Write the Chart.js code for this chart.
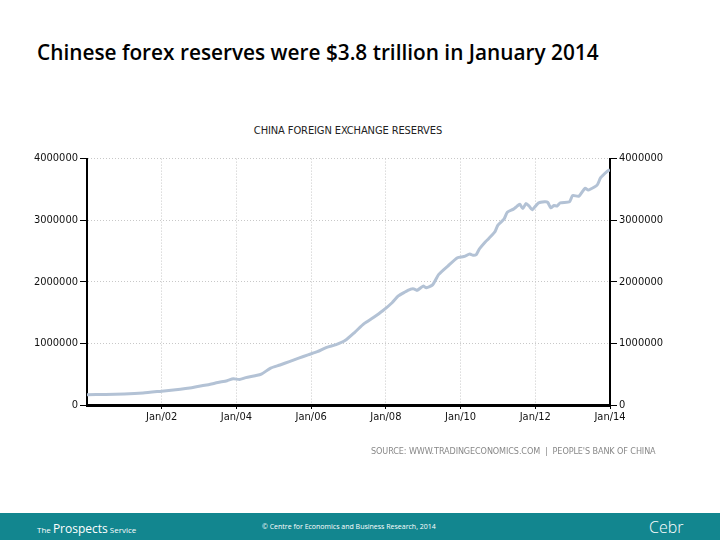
<!DOCTYPE html>
<html>
<head>
<meta charset="utf-8">
<script src="https://cdn.jsdelivr.net/npm/chart.js@4/dist/chart.umd.min.js"></script>
<style>
  body { margin:0; width:720px; height:540px; background:#fff; position:relative; overflow:hidden; font-family:"Open Sans", sans-serif; }
  #title { position:absolute; left:37px; top:38px; font-family:"Open Sans", sans-serif; font-weight:600; font-size:20.8px; color:#000; white-space:nowrap; }
  #ctitle { position:absolute; left:0; width:696px; top:124px; text-align:center; font-family:"DejaVu Sans Condensed","Liberation Sans Narrow",sans-serif; font-size:11px; color:#222; letter-spacing:-0.1px; }
  #source { position:absolute; left:371px; top:446px; font-family:"DejaVu Sans Condensed",sans-serif; font-size:9px; color:#888; white-space:nowrap; letter-spacing:-0.1px; }
  #wrap { position:absolute; left:0; top:150px; width:720px; height:300px; }
  #footer { position:absolute; left:0; top:513px; width:720px; height:27px; background:#12868f; color:#fff; }
  #footer span { position:absolute; white-space:nowrap; }
</style>
</head>
<body>
<div id="title">Chinese forex reserves were $3.8 trillion in January 2014</div>
<div id="ctitle">CHINA FOREIGN EXCHANGE RESERVES</div>
<div id="wrap"><canvas id="chart" width="720" height="300"></canvas></div>
<div id="source">SOURCE: WWW.TRADINGECONOMICS.COM&nbsp; |&nbsp; PEOPLE'S BANK OF CHINA</div>
<div id="footer">
  <span style="left:37px;top:7px;font-size:8px;">The <span style="position:static;font-size:12px;">Prospects</span> Service</span>
  <span style="left:262px;top:9px;font-size:7px;">© Centre for Economics and Business Research, 2014</span>
  <span style="left:649px;top:3px;font-size:16px;font-weight:300;">Cebr</span>
</div>
<script>
// China forex reserves, USD million
const dates = ['2000-01','2000-07','2001-01','2001-07','2002-01','2002-07','2002-10','2003-01','2003-04','2003-07','2003-10','2003-12',
  '2004-02','2004-04','2004-07','2004-09','2004-12','2005-03','2005-06','2005-09','2005-12','2006-03','2006-06','2006-09','2006-12',
  '2007-03','2007-06','2007-09','2007-12','2008-03','2008-05','2008-07','2008-09','2008-10','2008-11','2009-01','2009-02','2009-04',
  '2009-06','2009-09','2009-12','2010-02','2010-04','2010-05','2010-06','2010-07','2010-09','2010-10','2010-12','2011-01','2011-03',
  '2011-04','2011-06','2011-07','2011-08','2011-09','2011-10','2011-11','2011-12','2012-02','2012-04','2012-05','2012-06','2012-07',
  '2012-08','2012-09','2012-12','2013-01','2013-03','2013-05','2013-06','2013-08','2013-09','2013-10','2013-12','2014-01'];
const reserves = [168000,170000,178000,195000,225000,255000,275000,305000,330000,365000,395000,425000,
  415000,445000,475000,500000,600000,650000,705000,760000,815000,865000,935000,980000,1050000,
  1180000,1320000,1420000,1530000,1660000,1770000,1830000,1880000,1885000,1860000,1930000,1905000,1950000,
  2120000,2260000,2390000,2410000,2450000,2430000,2440000,2530000,2650000,2700000,2810000,2920000,3020000,
  3130000,3180000,3220000,3260000,3190000,3270000,3230000,3170000,3280000,3300000,3290000,3200000,3240000,
  3230000,3280000,3300000,3400000,3390000,3520000,3490000,3540000,3580000,3690000,3790000,3820000];
const yTicks = [0,1000000,2000000,3000000,4000000];
const xTickYears = [2002,2004,2006,2008,2010,2012,2014];

const toYear = s => { const p = s.split('-'); return +p[0] + (+p[1]-1)/12; };
const pts = dates.map((d,i)=>({x: toYear(d), y: reserves[i]}));

const tickFont = { family:'"DejaVu Sans Condensed", sans-serif', size:11 };

new Chart(document.getElementById('chart'), {
  type: 'line',
  data: { datasets: [{ data: pts, borderColor:'#b3c2d5', borderWidth:3, pointRadius:0, tension:0.2, yAxisID:'y' }] },
  options: {
    responsive:false, animation:false,
    layout: { padding: { top:6, bottom:0, left:0, right:0 } },
    plugins: { legend:{display:false}, tooltip:{enabled:false} },
    scales: {
      x: {
        type:'linear', min:2000, max:2014,
        afterBuildTicks: s => { s.ticks = xTickYears.map(v=>({value:v})); },
        afterFit: s => { s.height = 45; },
        ticks: { color:'#111', font:tickFont, padding:2, maxRotation:0,
          callback: v => 'Jan/' + String(v).slice(2) },
        grid: { color:'#c8c8c8', tickColor:'#000', tickLength:4 },
        border: { color:'#000', width:3, dash:[1,2] }
      },
      y: {
        position:'left', min:0, max:4000000,
        afterBuildTicks: s => { s.ticks = yTicks.map(v=>({value:v})); },
        afterFit: s => { s.width = 87; },
        ticks: { color:'#111', font:tickFont, padding:2, callback: v => String(v) },
        grid: { color:'#c8c8c8', tickColor:'#000', tickLength:7 },
        border: { color:'#000', width:2, dash:[1,2] }
      },
      y2: {
        position:'right', min:0, max:4000000,
        afterBuildTicks: s => { s.ticks = yTicks.map(v=>({value:v})); },
        afterFit: s => { s.width = 110; },
        ticks: { color:'#111', font:tickFont, padding:2, callback: v => String(v) },
        grid: { drawOnChartArea:false, color:'#000', tickColor:'#000', tickLength:7 },
        border: { color:'#000', width:2 }
      }
    }
  }
});
</script>
</body>
</html>
